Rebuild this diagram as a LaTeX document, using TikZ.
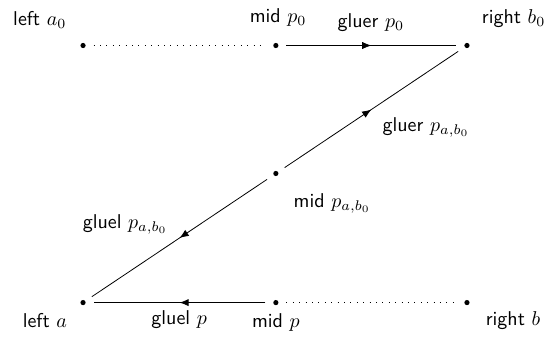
\documentclass[tikz,border=0pt]{standalone}
\usepackage{amsmath}
\usetikzlibrary{arrows.meta,decorations.markings}
\tikzset{
  >=Latex,
  vtx/.style={circle,fill=black,inner sep=0pt,minimum size=2.6pt,outer sep=4pt},
  glue/.style={decoration={markings, mark=at position 0.5 with {\arrow{Latex[length=4.6pt,width=3.6pt]}}}, postaction={decorate}},
  gap/.style={dash pattern=on 0.4pt off 2.8pt},
  lbl/.style={font=\sffamily, anchor=base, inner sep=0pt}
}

\begin{document}
\begin{tikzpicture}
    \useasboundingbox (-1.46,-0.615) rectangle (8.21,5.32);

    % Points
    \node[vtx] (la0) at (0,4.52) {};
    \node[vtx] (mp0) at (3.39,4.52) {};
    \node[vtx] (rb0) at (6.75,4.52) {};
    \node[vtx] (mpab) at (3.39,2.27) {};
    \node[vtx] (la) at (0,0) {};
    \node[vtx] (mp) at (3.39,0) {};
    \node[vtx] (rb) at (6.75,0) {};

    % Top row
    \draw[gap] (la0) -- (mp0);
    \draw[glue] (mp0) -- (rb0);

    % Diagonal
    \draw[glue] (mpab) -- (rb0);
    \draw[glue] (mpab) -- (la);

    % Bottom row
    \draw[glue] (mp) -- (la);
    \draw[gap] (mp) -- (rb);

    % Labels
    \node[lbl] (tla0) at (-0.76,4.87) {left $a_0$};
    \node[lbl] (tmp0) at (3.43,4.92) {mid $p_0$};
    \node[lbl] (trb0) at (7.57,4.90) {right $b_0$};
    \node[lbl] (tgr0) at (5.06,4.83) {gluer $p_0$};
    \node[lbl] (tgrab) at (6.03,3.01) {gluer $p_{a,b_0}$};
    \node[lbl] (tmpab) at (4.38,1.67) {mid $p_{a,b_0}$};
    \node[lbl] (tglab) at (0.74,1.31) {gluel $p_{a,b_0}$};
    \node[lbl] (tla) at (-0.67,-0.44) {left $a$};
    \node[lbl] (tgl) at (1.69,-0.38) {gluel $p$};
    \node[lbl] (tmp) at (3.39,-0.44) {mid $p$};
    \node[lbl] (trb) at (7.56,-0.40) {right $b$};

\end{tikzpicture}
\end{document}
